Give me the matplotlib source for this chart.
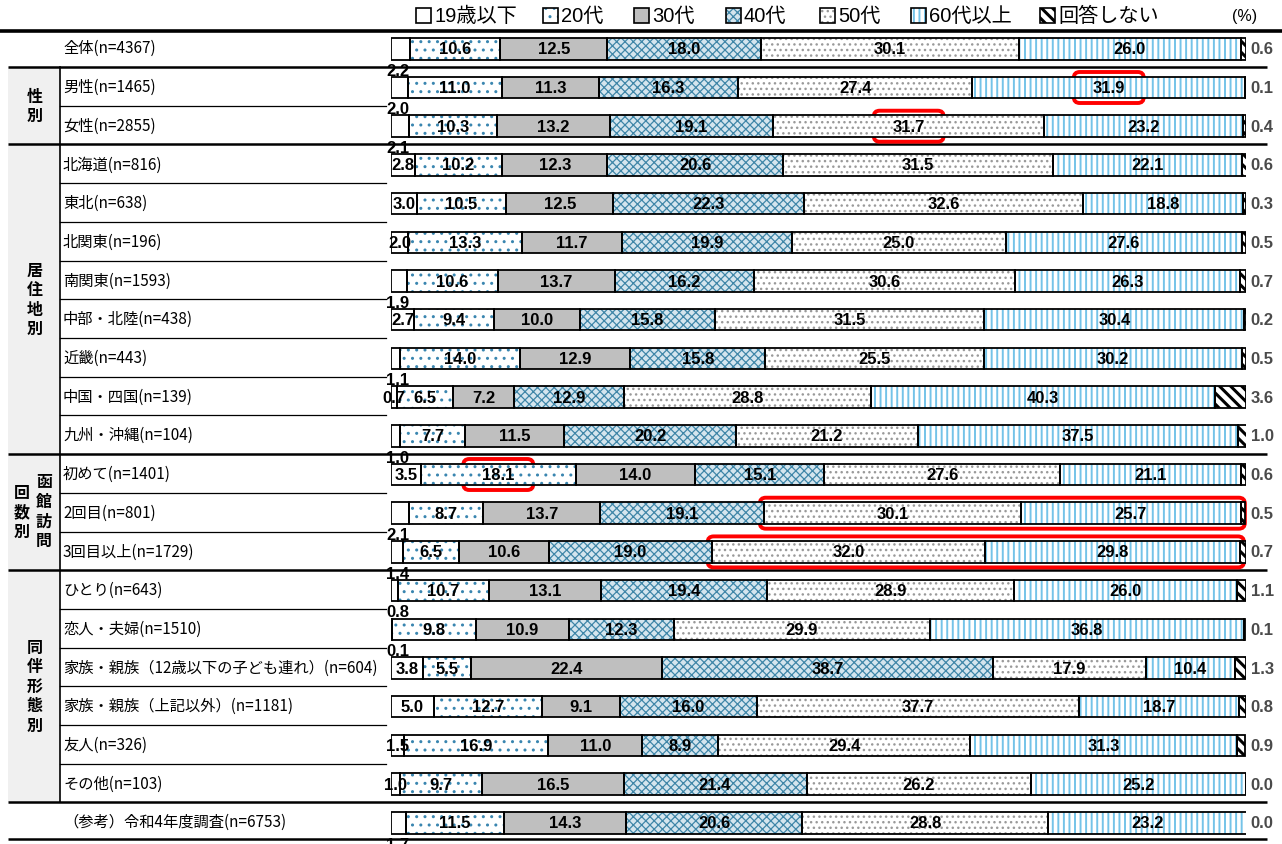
import matplotlib
matplotlib.use('Agg')
import matplotlib.pyplot as plt
from matplotlib.patches import Rectangle, FancyBboxPatch
import numpy as np

W, H = 1282, 845

# ---------------- data ----------------
categories = ['19歳以下', '20代', '30代', '40代', '50代', '60代以上', '回答しない']

row_labels = [
    '全体(n=4367)',
    '男性(n=1465)', '女性(n=2855)',
    '北海道(n=816)', '東北(n=638)', '北関東(n=196)', '南関東(n=1593)',
    '中部・北陸(n=438)', '近畿(n=443)', '中国・四国(n=139)', '九州・沖縄(n=104)',
    '初めて(n=1401)', '2回目(n=801)', '3回目以上(n=1729)',
    'ひとり(n=643)', '恋人・夫婦(n=1510)', '家族・親族（12歳以下の子ども連れ）(n=604)',
    '家族・親族（上記以外）(n=1181)', '友人(n=326)', 'その他(n=103)',
    '（参考）令和4年度調査(n=6753)',
]

under19 = [2.2, 2.0, 2.1, 2.8, 3.0, 2.0, 1.9, 2.7, 1.1, 0.7, 1.0, 3.5, 2.1, 1.4, 0.8, 0.1, 3.8, 5.0, 1.5, 1.0, 1.7]
age20s = [10.6, 11.0, 10.3, 10.2, 10.5, 13.3, 10.6, 9.4, 14.0, 6.5, 7.7, 18.1, 8.7, 6.5, 10.7, 9.8, 5.5, 12.7, 16.9, 9.7, 11.5]
age30s = [12.5, 11.3, 13.2, 12.3, 12.5, 11.7, 13.7, 10.0, 12.9, 7.2, 11.5, 14.0, 13.7, 10.6, 13.1, 10.9, 22.4, 9.1, 11.0, 16.5, 14.3]
age40s = [18.0, 16.3, 19.1, 20.6, 22.3, 19.9, 16.2, 15.8, 15.8, 12.9, 20.2, 15.1, 19.1, 19.0, 19.4, 12.3, 38.7, 16.0, 8.9, 21.4, 20.6]
age50s = [30.1, 27.4, 31.7, 31.5, 32.6, 25.0, 30.6, 31.5, 25.5, 28.8, 21.2, 27.6, 30.1, 32.0, 28.9, 29.9, 17.9, 37.7, 29.4, 26.2, 28.8]
age60p = [26.0, 31.9, 23.2, 22.1, 18.8, 27.6, 26.3, 30.4, 30.2, 40.3, 37.5, 21.1, 25.7, 29.8, 26.0, 36.8, 10.4, 18.7, 31.3, 25.2, 23.2]
no_answer = [0.6, 0.1, 0.4, 0.6, 0.3, 0.5, 0.7, 0.2, 0.5, 3.6, 1.0, 0.6, 0.5, 0.7, 1.1, 0.1, 1.3, 0.8, 0.9, 0.0, 0.0]

# groups: (label, first row, last row)
groups = [('性別', 1, 2), ('居住地別', 3, 10), ('函館訪問回数別', 11, 13), ('同伴形態別', 14, 19)]

# where the "19歳以下" label sits (style choice, True = below the bar)
u19_label_below = [True, True, True, False, False, False, True, False, True, False, True,
                   False, True, True, True, True, False, False, False, False, True]

# highlighted cells: (row, first segment, last segment)
highlights = [(1, 5, 5), (2, 4, 4), (11, 1, 1), (12, 4, 5), (13, 4, 5)]

# ---------------- styles ----------------
styles = [
    dict(face='white', hatch=None, hc='black'),
    dict(face='white', hatch='..', hc='#3a86b0'),
    dict(face='#bfbfbf', hatch=None, hc='black'),
    dict(face='#d4e5ee', hatch='xxxx', hc='#3f86a8'),
    dict(face='white', hatch='...', hc='#9a9a9a'),
    dict(face='white', hatch='|||', hc='#74c3e8'),
    dict(face='white', hatch='\\\\\\', hc='black'),
]
hatch_lw = [1.0, 1.0, 1.0, 0.9, 1.0, 1.4, 2.2]

JP = ['Noto Sans CJK JP', 'DejaVu Sans']
NUM = ['Liberation Sans', 'Noto Sans CJK JP', 'DejaVu Sans']

fig = plt.figure(figsize=(W / 100, H / 100), dpi=100)
fig.patch.set_facecolor('white')

# overlay axes in pixel coordinates for table decorations
ov = fig.add_axes([0, 0, 1, 1])
ov.set_xlim(0, W)
ov.set_ylim(H, 0)
ov.axis('off')

# bar axes
n = len(row_labels)
row0_px, pitch = 49.8, 38.7
last_px = row0_px + (n - 1) * pitch
top_px, bot_px = 32, 845
ax = fig.add_axes([391 / W, 1 - bot_px / H, (1246 - 391) / W, (bot_px - top_px) / H])
ax.set_xlim(0, 100)
ax.set_ylim((n - 1) + (bot_px - last_px) / pitch, -(row0_px - top_px) / pitch)
ax.axis('off')
ax.patch.set_alpha(0)

series = [under19, age20s, age30s, age40s, age50s, age60p, no_answer]
data = np.array(series)  # (7, n)
y = np.arange(n)
bh = 0.555
left = np.zeros(n)
lefts = []
for k, vals in enumerate(data):
    st = styles[k]
    lefts.append(left.copy())
    if st['hatch']:
        with plt.rc_context({'hatch.linewidth': hatch_lw[k]}):
            ax.barh(y, vals, left=left, height=bh, color=st['face'], edgecolor=st['hc'],
                    hatch=st['hatch'], linewidth=0, zorder=2)
    else:
        ax.barh(y, vals, left=left, height=bh, color=st['face'], linewidth=0, zorder=2)
    ax.barh(y, vals, left=left, height=bh, fill=False, edgecolor='black', linewidth=1.3, zorder=3)
    left = left + vals
lefts = np.array(lefts)

fs_val = 12
for i in range(n):
    for k in range(7):
        v = data[k, i]
        txt = f'{v:.1f}'
        if k == 0:
            if u19_label_below[i]:
                ax.text(0.8, i + 0.55, txt, ha='center', va='center', fontsize=fs_val,
                        fontweight='bold', family=NUM, zorder=6)
            else:
                ax.text(lefts[k, i] + v / 2, i, txt, ha='center', va='center', fontsize=fs_val,
                        fontweight='bold', family=NUM, zorder=6)
        elif k == 6:
            ax.text(100.55, i, txt, ha='left', va='center', fontsize=fs_val,
                    fontweight='bold', family=NUM, color='#4a4a4a', zorder=6, clip_on=False)
        else:
            ax.text(lefts[k, i] + v / 2, i, txt, ha='center', va='center', fontsize=fs_val,
                    fontweight='bold', family=NUM, zorder=6)


def to_px(xd, yd):
    d = ax.transData.transform((xd, yd))
    return ov.transData.inverted().transform(d)


def row_px(r):
    return to_px(0, r)[1]


# ---------------- table lines ----------------
ov.plot([0, W], [top_px, top_px], color='black', lw=2.6, solid_capstyle='butt')
thick_after = [0, 2, 10, 13, 19]
for r in thick_after:
    yy = row_px(r + 0.5) - 1.5
    ov.plot([8, 1267], [yy, yy], color='black', lw=1.8, solid_capstyle='butt')
ov.plot([8, 1267], [840, 840], color='black', lw=1.8, solid_capstyle='butt')

g_top = row_px(0.5) - 1.5
g_bot = row_px(19.5) - 1.5
ov.add_patch(Rectangle((8, g_top), 52, g_bot - g_top, facecolor='#f0f0f0', edgecolor='none', zorder=0))
ov.plot([60, 60], [g_top, g_bot], color='black', lw=1.2)

for (gname, a, b) in groups:
    for r in range(a, b):
        yy = row_px(r + 0.5) - 1
        ov.plot([60, 386], [yy, yy], color='black', lw=0.9)

# row labels
for i, lab in enumerate(row_labels):
    ov.text(63, row_px(i) - 1, lab, ha='left', va='center', fontsize=11, family=JP)


def vtext(x, chars, yc, step=19.5):
    m = len(chars)
    for j, ch in enumerate(chars):
        yy = yc + (j - (m - 1) / 2) * step
        ov.text(x, yy, ch, ha='center', va='center', fontsize=11.5, fontweight='bold', family=JP)


for (gname, a, b) in groups:
    yc = (row_px(a - 0.5) + row_px(b + 0.5)) / 2 - 1.5
    if gname == '函館訪問回数別':
        vtext(44, '函館訪問', yc - 1)
        vtext(22, '回数別', yc)
    else:
        vtext(35, gname, yc)

# ---------------- highlight boxes ----------------
for (r, s0, s1) in highlights:
    if s0 == s1:
        cx = lefts[s0, r] + data[s0, r] / 2
        x0, _ = to_px(cx, r)
        xa, xb = x0 - 35, x0 + 35
    else:
        xa = to_px(lefts[s0, r], r)[0] - 4
        xb = to_px(lefts[s1, r] + data[s1, r], r)[0] + 4
    yc = row_px(r)
    ya, yb = yc - 15.5, yc + 15.5
    ov.add_patch(FancyBboxPatch((xa, ya), xb - xa, yb - ya,
                                boxstyle='round,pad=0,rounding_size=6',
                                facecolor='none', edgecolor='#ff0000', lw=2.8, zorder=10))

# ---------------- legend ----------------
leg_x = [416, 543, 634, 726, 820, 911, 1040]
ly = 16
sq = 15
for k, cat in enumerate(categories):
    st = styles[k]
    x0 = leg_x[k]
    if st['hatch']:
        with plt.rc_context({'hatch.linewidth': hatch_lw[k]}):
            ov.add_patch(Rectangle((x0, ly - sq / 2), sq, sq, facecolor=st['face'],
                                   edgecolor=st['hc'], hatch=st['hatch'], lw=0))
    else:
        ov.add_patch(Rectangle((x0, ly - sq / 2), sq, sq, facecolor=st['face'], lw=0))
    ov.add_patch(Rectangle((x0, ly - sq / 2), sq, sq, fill=False, edgecolor='black', lw=1.2))
    ov.text(x0 + sq + 3, ly, cat, ha='left', va='center', fontsize=14.5, family=NUM)
ov.text(1232, ly + 1, '(%)', ha='left', va='center', fontsize=11.5, family=NUM)

fig.savefig('out.png', dpi=100)
